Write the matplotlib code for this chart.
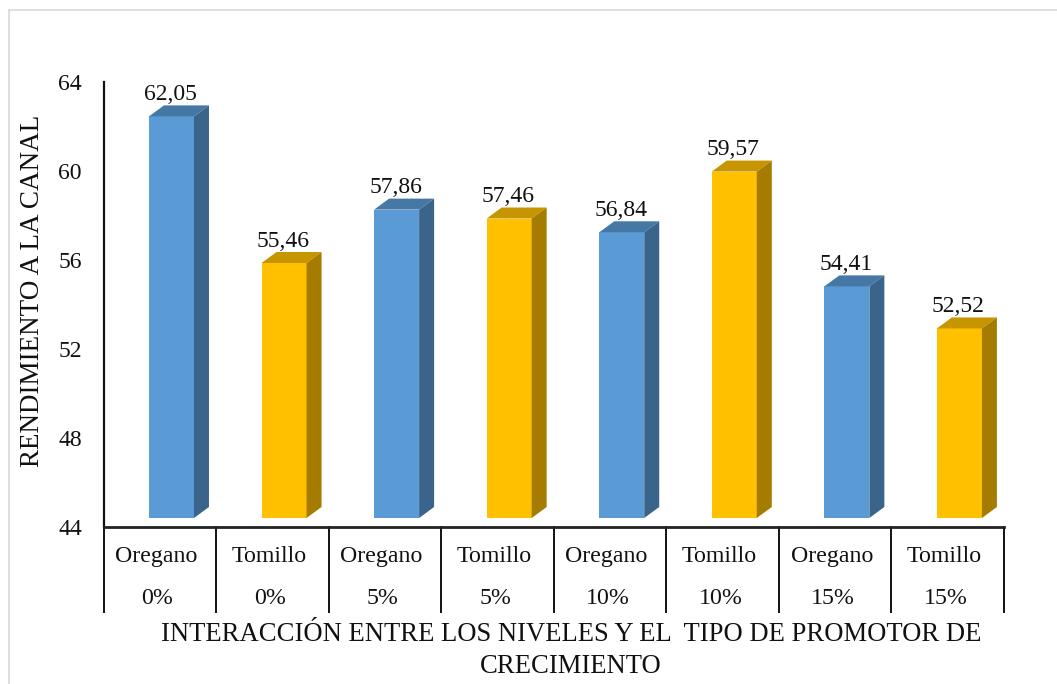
import matplotlib
matplotlib.use("Agg")
import matplotlib.pyplot as plt
from matplotlib.lines import Line2D

plt.rcParams['font.family'] = ['Liberation Serif', 'DejaVu Serif']

especies = ["Oregano", "Tomillo", "Oregano", "Tomillo", "Oregano", "Tomillo", "Oregano", "Tomillo"]
niveles = ["0%", "0%", "5%", "5%", "10%", "10%", "15%", "15%"]
valores = [62.05, 55.46, 57.86, 57.46, 56.84, 59.57, 54.41, 52.52]
etiquetas = ["62,05", "55,46", "57,86", "57,46", "56,84", "59,57", "54,41", "52,52"]
yticks = [44, 48, 52, 56, 60, 64]
ylabel = "RENDIMIENTO A LA CANAL"
xlabel = "INTERACCIÓN ENTRE LOS NIVELES Y EL  TIPO DE PROMOTOR DE\nCRECIMIENTO"

W, H = 1057, 684
fig = plt.figure(figsize=(W / 100, H / 100), dpi=100)
L, R, T, B = 103.5, 1004, 82, 527
ax = fig.add_axes([L / W, 1 - B / H, (R - L) / W, (B - T) / H])
ax.set_xlim(-0.5, 7.5)
ax.set_ylim(44, 64)
ax.patch.set_alpha(0)

ux = (R - L) / 8   # px per category
uy = (B - T) / 20  # px per unit
bar_w = 45 / ux
shift_x = 11.7 / ux
floor = 9 / uy
dx = 15 / ux
dy = 11 / uy

palette = {"Oregano": ("#5B9BD5", "#4678A6", "#3A648A"),
           "Tomillo": ("#FFC000", "#C69500", "#A67C00")}

for i, (esp, v, lab) in enumerate(zip(especies, valores, etiquetas)):
    front, top, side = palette[esp]
    x0 = i + shift_x - bar_w / 2
    x1 = x0 + bar_w
    y0 = 44 + floor
    y1 = v + floor
    ax.bar(x0 + bar_w / 2, y1 - y0, bar_w, bottom=y0, color=front, edgecolor="none", zorder=3)
    ax.fill([x0, x1, x1 + dx, x0 + dx], [y1, y1, y1 + dy, y1 + dy], color=top, lw=0, zorder=3)
    ax.fill([x1, x1 + dx, x1 + dx, x1], [y0, y0 + dy, y1 + dy, y1], color=side, lw=0, zorder=3)
    ax.text(x0 + bar_w / 2 - 1 / ux, y1 + dy + 0.02, lab, ha="center", va="bottom", fontsize=17, color="#111111", zorder=4)

for s in ("top", "right", "bottom"):
    ax.spines[s].set_visible(False)
ax.spines["left"].set_linewidth(1.6)
ax.spines["left"].set_color("#111111")
ax.axhline(44, color="#222222", lw=2, zorder=5, clip_on=False)

ax.set_yticks(yticks)
ax.tick_params(axis="y", length=0, pad=15.5, labelsize=17, labelcolor="#111111")
ax.set_xticks([])

# category table under the axis
tr = ax.get_xaxis_transform()
y_of = lambda py: -(py - B) / (B - T)
for k in range(9):
    ax.add_line(Line2D([k - 0.5, k - 0.5], [0, y_of(612)], transform=tr, color="#111111", lw=1.4, clip_on=False))
for i, (esp, niv) in enumerate(zip(especies, niveles)):
    ax.text(i - 0.03, y_of(556.5), esp, transform=tr, ha="center", va="center", fontsize=17.2, color="#111111", clip_on=False)
    ax.text(i - 0.02, y_of(599), niv, transform=tr, ha="center", va="center", fontsize=17.2, color="#111111", clip_on=False)

fig.text(571 / W, 1 - 650.5 / H, xlabel, ha="center", va="center", fontsize=19.2, color="#111111", linespacing=1.34)
fig.text(33 / W, 1 - 291 / H, ylabel, rotation=90, ha="center", va="center", fontsize=19.5, color="#111111")

# chart frame
frame = "#D9D9D9"
fig.add_artist(Line2D([9 / W, 9 / W], [0, 1 - 10 / H], transform=fig.transFigure, color=frame, lw=1.2))
fig.add_artist(Line2D([9 / W, 1057 / W], [1 - 10 / H, 1 - 10 / H], transform=fig.transFigure, color=frame, lw=1.2))

fig.savefig("out.png", dpi=100)
